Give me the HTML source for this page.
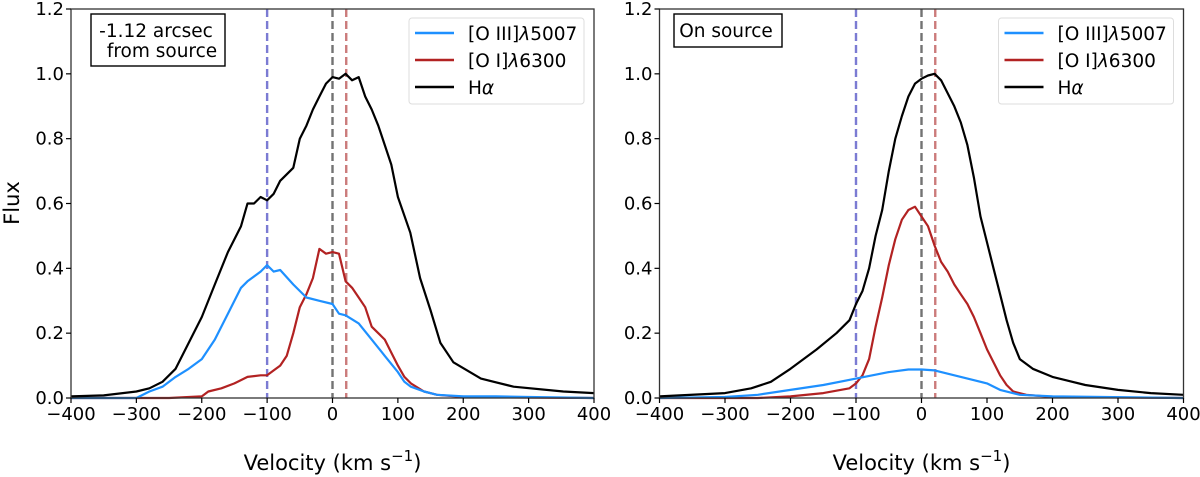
<!DOCTYPE html>
<html><head><meta charset="utf-8"><style>
html,body{margin:0;padding:0;background:#fff;}
svg{display:block;font-family:"DejaVu Sans","Liberation Sans",sans-serif;}
</style></head><body>
<svg id="chart" width="1200" height="477" viewBox="0 0 1200 477"></svg>
<script>
// ---- data ----
const leftHaV = [-400,-350,-300,-280,-260,-240,-220,-200,-180,-160,-140,-130,-120,-110,-100,-90,-80,-60,-50,-40,-30,-20,-10,0,10,20,30,40,50,60,70,80,90,100,119,134,150,165,185,227,277,353,400];
const leftHaF = [0.005,0.008,0.02,0.03,0.05,0.09,0.17,0.25,0.35,0.45,0.53,0.6,0.6,0.62,0.61,0.63,0.67,0.71,0.8,0.84,0.89,0.93,0.97,0.99,0.985,1.0,0.98,0.99,0.93,0.89,0.84,0.78,0.72,0.62,0.51,0.37,0.27,0.17,0.11,0.06,0.035,0.02,0.015];
const leftO3V = [-400,-300,-280,-260,-240,-220,-200,-180,-160,-140,-130,-110,-100,-90,-80,-60,-40,-20,0,10,20,40,60,80,100,110,120,140,160,200,250,300,400];
const leftO3F = [0,0.0,0.02,0.035,0.065,0.09,0.12,0.18,0.26,0.34,0.36,0.39,0.41,0.39,0.395,0.35,0.31,0.30,0.29,0.26,0.255,0.23,0.18,0.13,0.08,0.05,0.035,0.02,0.01,0.005,0.005,0.003,0];
const leftO1V = [-400,-250,-200,-190,-170,-150,-130,-110,-100,-90,-80,-70,-60,-50,-40,-30,-20,-10,0,10,20,30,40,50,60,70,80,90,100,110,120,140,160,200,400];
const leftO1F = [0,0,0.005,0.02,0.03,0.045,0.065,0.07,0.07,0.085,0.1,0.13,0.2,0.28,0.32,0.37,0.46,0.445,0.45,0.445,0.36,0.34,0.31,0.28,0.22,0.2,0.18,0.14,0.1,0.065,0.045,0.02,0.01,0.003,0];
const rightHaV = [-400,-300,-260,-230,-200,-160,-130,-110,-100,-90,-80,-70,-60,-50,-40,-30,-20,-10,0,10,20,30,40,50,60,70,80,90,100,110,120,130,140,150,170,200,250,300,350,400];
const rightHaF = [0.005,0.015,0.03,0.05,0.09,0.15,0.2,0.24,0.29,0.33,0.4,0.5,0.58,0.7,0.8,0.87,0.93,0.97,0.985,0.995,1.0,0.98,0.94,0.9,0.85,0.78,0.68,0.56,0.48,0.4,0.32,0.24,0.17,0.12,0.09,0.065,0.04,0.025,0.015,0.01];
const rightO1V = [-400,-250,-200,-150,-110,-100,-90,-80,-70,-60,-50,-40,-30,-20,-10,0,10,20,30,40,50,60,70,80,90,100,110,120,130,140,160,200,400];
const rightO1F = [0,0,0.005,0.015,0.03,0.045,0.07,0.12,0.22,0.31,0.41,0.49,0.55,0.58,0.59,0.56,0.53,0.47,0.42,0.39,0.35,0.32,0.29,0.25,0.2,0.15,0.11,0.07,0.04,0.02,0.01,0.003,0];
const rightO3V = [-400,-300,-250,-200,-150,-100,-50,-20,0,20,50,100,120,150,200,400];
const rightO3F = [0,0.003,0.01,0.025,0.04,0.06,0.08,0.088,0.088,0.085,0.07,0.045,0.025,0.01,0.005,0];
const xTicks = [-400,-300,-200,-100,0,100,200,300,400];
const yTicks = [0.0,0.2,0.4,0.6,0.8,1.0,1.2];
const refLines = [-100,0,21];

const NS="http://www.w3.org/2000/svg";
const svg=document.getElementById('chart');
function el(tag,attrs,parent,text){const e=document.createElementNS(NS,tag);for(const k in attrs)e.setAttribute(k,attrs[k]);if(text!==undefined)e.textContent=text;(parent||svg).appendChild(e);return e;}

const Y0=398, Y1=9;
function makePanel(x0,x1,name,haV,haF,o3V,o3F,o1V,o1F,annot,annotBox){
  const g=el('g',{});
  
  
  const xs=v=>x0+(v+400)/800*(x1-x0);
  const ys=f=>Y0-f/1.2*(Y0-Y1);
  const refColors=['rgba(90,90,200,0.8)','rgba(90,90,90,0.85)','rgba(190,90,90,0.8)'];
  const refNames=['blue-ref-line','zero-ref-line','red-ref-line'];
  refLines.forEach((v,i)=>{
    const l=el('line',{x1:xs(v),x2:xs(v),y1:Y1,y2:Y0,stroke:refColors[i],'stroke-width':2.4,'stroke-dasharray':'8,4'},g);
    
    
  });
  const series=[[o1V,o1F,'#b22222','oi-6300-line'],[o3V,o3F,'#1e90ff','oiii-5007-line'],[haV,haF,'#000','halpha-line']];
  series.forEach(s=>{
    const d=s[0].map((v,i)=>(i?'L':'M')+xs(v).toFixed(1)+','+ys(s[1][i]).toFixed(1)).join('');
    const p=el('path',{d:d,fill:'none',stroke:s[2],'stroke-width':2.2,'stroke-linejoin':'round'},g);
    
    
  });
  const fr=el('rect',{x:x0,y:Y1,width:x1-x0,height:Y0-Y1,fill:'none',stroke:'#333','stroke-width':1.3},g);
  
  
  xTicks.forEach(v=>{
    el('line',{x1:xs(v),x2:xs(v),y1:Y0,y2:Y0+5,stroke:'#000','stroke-width':1.2},g);
    const t=el('text',{x:xs(v),y:Y0+22,'text-anchor':'middle','font-size':18},g,v<0?'\u2212'+(-v):String(v));
    
    
  });
  yTicks.forEach(f=>{
    el('line',{x1:x0-5,x2:x0,y1:ys(f),y2:ys(f),stroke:'#000','stroke-width':1.2},g);
    const t=el('text',{x:x0-7,y:ys(f)+6,'text-anchor':'end','font-size':18},g,f.toFixed(1));
    
    
  });
  const xl=el('text',{x:(x0+x1)/2,y:470,'text-anchor':'middle','font-size':21},g);
  
  
  xl.innerHTML='Velocity (km s<tspan dy="-9" font-size="15">\u22121</tspan><tspan dy="9">)</tspan>';
  const ab=el('rect',{x:annotBox[0],y:annotBox[1],width:annotBox[2],height:annotBox[3],fill:'#fff',stroke:'#000','stroke-width':1.4},g);
  
  
  annot.forEach((s,i)=>{
    const t=el('text',{x:annotBox[0]+annotBox[2]/2+(i==1?4:-2),y:annotBox[1]+23+i*20,'text-anchor':'middle','font-size':18.5},g,s);
    
    
  });
  const lx=x1-185, ly=18;
  const lb=el('rect',{x:lx,y:ly,width:175,height:86,rx:3,fill:'#fff','fill-opacity':0.8,stroke:'#ddd','stroke-width':1},g);
  
  
  const items=[['#1e90ff','[O III]','5007','legend-entry-oiii'],['#b22222','[O I]','6300','legend-entry-oi'],['#000','H','','legend-entry-halpha']];
  items.forEach((it,i)=>{
    const yy=ly+15+i*27;
    el('line',{x1:lx+6,x2:lx+45,y1:yy,y2:yy,stroke:it[0],'stroke-width':2.4},g);
    const t=el('text',{x:lx+59,y:yy+7,'font-size':18.5},g);
    
    
    if(it[2]) t.innerHTML=it[1]+'<tspan font-style="italic">\u03bb</tspan>'+it[2];
    else t.innerHTML='H<tspan font-style="italic">\u03b1</tspan>';
  });
}
makePanel(71,594,'left-panel-offset',leftHaV,leftHaF,leftO3V,leftO3F,leftO1V,leftO1F,['-1.12 arcsec','from source'],[91,14,134,52]);
makePanel(659.5,1183.5,'right-panel-on-source',rightHaV,rightHaF,rightO3V,rightO3F,rightO1V,rightO1F,['On source'],[674,14,108,33]);
const yl=el('text',{x:0,y:0,'text-anchor':'middle','font-size':21,transform:'translate(19,203) rotate(-90)'},svg,'Flux');


</script>
</body></html>
